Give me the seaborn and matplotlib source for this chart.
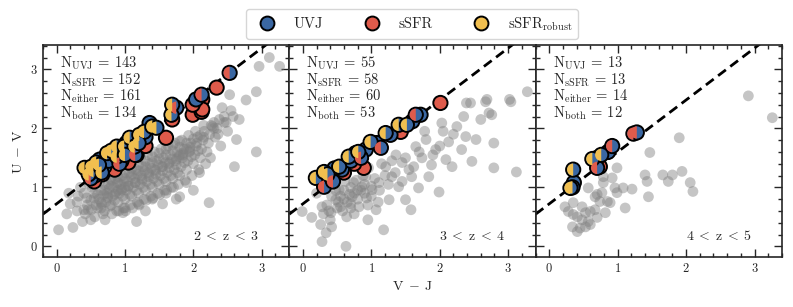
import numpy as np
import pandas as pd
import seaborn as sns
import matplotlib.pyplot as plt
from matplotlib.markers import MarkerStyle
from matplotlib.lines import Line2D
from matplotlib.ticker import MultipleLocator, AutoMinorLocator

sns.set_style("ticks")
plt.rcParams["font.family"] = ["serif"]
plt.rcParams["font.serif"] = ["cmr10", "DejaVu Serif"]
plt.rcParams["mathtext.fontset"] = "cm"
plt.rcParams["axes.formatter.use_mathtext"] = True

BLUE = "#3a67a2"
RED = "#df5b4b"
YELLOW = "#f1bf4f"

# redshift bins
z_labels = [r"$2\;<\;\mathrm{z}\;<\;3$", r"$3\;<\;\mathrm{z}\;<\;4$", r"$4\;<\;\mathrm{z}\;<\;5$"]
n_uvj = [143, 55, 13]
n_ssfr = [152, 58, 13]
n_either = [161, 60, 14]
n_both = [134, 53, 12]

# UVJ selection line (U-V = a (V-J) + b)
uvj_slope = 0.88
uvj_icpt = 0.72
line_vj = np.array([-0.2, 3.4])

# ---- all galaxies (grey) ----
gray_x_1 = [0.03, 0.15, 0.2, 0.24, 0.18, 0.3, 0.32, 0.35, 0.38, 0.3, 0.42, 0.45, 0.4, 0.48, 0.44, 0.46,
            0.51, 0.5, 0.55, 0.53, 0.58, 0.56, 0.52, 0.6, 0.62, 0.65, 0.63, 0.68, 0.66, 0.61, 0.69,
            0.7, 0.72, 0.74, 0.76, 0.73, 0.78, 0.71, 0.77, 0.79, 0.8, 0.82, 0.84, 0.86, 0.83, 0.88,
            0.81, 0.87, 0.89, 0.85, 0.9, 0.92, 0.94, 0.96, 0.93, 0.98, 0.91, 0.97, 0.95, 0.99,
            1.0, 1.02, 1.04, 1.06, 1.03, 1.08, 1.01, 1.07, 1.05, 1.09, 0.97, 1.1, 1.12, 1.14, 1.16,
            1.13, 1.18, 1.11, 1.17, 1.15, 1.19, 1.17, 1.2, 1.22, 1.24, 1.26, 1.23, 1.28, 1.21, 1.27,
            1.25, 1.29, 1.3, 1.32, 1.34, 1.36, 1.33, 1.38, 1.31, 1.37, 1.35, 1.39, 1.4, 1.42, 1.44,
            1.46, 1.43, 1.48, 1.41, 1.47, 1.45, 1.49, 1.5, 1.52, 1.54, 1.56, 1.53, 1.58, 1.51, 1.57,
            1.55, 1.59, 1.6, 1.62, 1.64, 1.66, 1.63, 1.68, 1.61, 1.67, 1.65, 1.69, 1.7, 1.72, 1.74,
            1.76, 1.73, 1.78, 1.71, 1.77, 1.75, 1.79, 1.8, 1.8, 1.82, 1.84, 1.86, 1.83, 1.88, 1.87,
            1.85, 1.9, 1.9, 1.92, 1.94, 1.96, 1.93, 1.98, 1.97, 1.95, 2.0, 2.02, 2.04, 2.06, 2.03,
            2.08, 2.09, 2.07, 2.1, 2.12, 2.14, 2.16, 2.18, 2.15, 2.2, 2.22, 2.24, 2.26, 2.28, 2.23,
            2.25, 2.32, 2.35, 2.38, 2.4, 2.45, 2.5, 2.53, 2.6, 2.63, 2.67, 2.77, 2.92, 2.92, 2.96,
            3.11, 3.26, 2.55, 2.42, 2.48, 2.58, 2.36, 2.3, 1.9, 1.8, 0.65, 0.55, 0.75, 0.9, 1.0,
            # dense core
            0.6, 0.7, 0.8, 0.9, 1.0, 1.1, 1.2, 1.3, 1.4, 1.5, 1.6, 1.7, 1.8, 1.9, 2.0, 2.1,
            0.65, 0.75, 0.85, 0.95, 1.05, 1.15, 1.25, 1.35, 1.45, 1.55, 1.65, 1.75, 1.85, 1.95,
            0.7, 0.8, 0.9, 1.0, 1.1, 1.2, 1.3, 1.4, 1.5, 1.6, 1.7, 1.8, 2.05, 2.15, 2.3, 2.45,
            1.0, 1.2, 1.4, 1.6, 0.5, 0.4, 1.3, 1.55, 1.75, 2.0]
gray_y_1 = [0.28, 0.55, 0.72, 0.32, 0.9, 0.6, 0.85, 1.0, 0.42, 0.75, 0.55, 0.7, 0.9, 1.05, 0.82, 0.62,
            0.62, 0.78, 0.9, 1.1, 0.7, 0.5, 1.0, 0.65, 0.8, 0.95, 1.1, 0.55, 0.72, 1.2, 0.88,
            0.6, 0.75, 0.9, 1.05, 1.2, 0.68, 0.45, 0.98, 1.15, 0.7, 0.85, 1.0, 1.15, 1.3, 0.6,
            0.55, 0.92, 1.08, 0.78, 0.75, 0.9, 1.05, 1.2, 1.35, 0.65, 0.6, 0.85, 0.97, 1.1,
            0.8, 0.95, 1.1, 1.25, 1.4, 0.7, 0.6, 0.88, 1.02, 1.18, 0.57, 0.85, 1.0, 1.15, 1.3,
            1.45, 0.75, 0.65, 0.95, 1.08, 1.22, 0.42, 0.9, 1.05, 1.2, 1.35, 1.5, 0.8, 0.7, 1.0,
            1.12, 1.28, 0.95, 1.1, 1.25, 1.4, 1.55, 0.85, 0.78, 1.05, 1.18, 1.32, 1.0, 1.15, 1.3,
            1.45, 1.6, 0.9, 0.82, 1.1, 1.22, 1.38, 1.05, 1.2, 1.35, 1.5, 1.65, 0.95, 0.88, 1.15,
            1.28, 1.42, 1.1, 1.25, 1.4, 1.55, 1.7, 1.0, 0.95, 1.2, 1.33, 1.48, 1.15, 1.3, 1.45,
            1.6, 1.75, 1.05, 1.0, 1.25, 1.38, 1.52, 0.84, 1.2, 1.35, 1.5, 1.65, 1.8, 1.12, 1.42,
            1.58, 1.08, 1.3, 1.45, 1.6, 1.75, 1.88, 1.2, 1.52, 1.68, 1.4, 1.55, 1.7, 1.85, 1.95,
            1.3, 1.25, 1.62, 1.5, 1.65, 1.8, 1.95, 1.4, 2.05, 1.6, 1.75, 1.9, 2.05, 2.03, 0.74,
            1.5, 1.85, 2.0, 2.15, 1.7, 2.2, 1.95, 2.57, 1.35, 1.81, 2.15, 2.48, 2.62, 1.6, 3.05,
            3.2, 3.05, 2.3, 2.35, 2.1, 2.2, 1.9, 2.1, 1.65, 1.55, 0.65, 0.82, 0.85, 0.95, 1.0,
            0.88, 0.95, 1.02, 1.08, 1.15, 1.22, 1.28, 1.35, 1.42, 1.48, 1.55, 1.62, 1.68, 1.75, 1.82, 1.88,
            0.75, 0.82, 0.88, 0.95, 1.02, 1.08, 1.15, 1.22, 1.28, 1.35, 1.42, 1.48, 1.55, 1.62,
            1.05, 1.12, 1.18, 1.25, 1.32, 1.38, 1.45, 1.52, 1.58, 1.65, 1.72, 1.78, 1.75, 1.85, 2.0, 2.1,
            0.65, 0.72, 0.8, 0.9, 0.45, 0.62, 0.6, 0.72, 0.8, 0.95]

gray_x_2 = [-0.01, 0.13, 0.26, 0.28, 0.34, 0.28, 0.42, 0.41, 0.48, 0.53, 0.55, 0.63, 0.64, 0.72,
            0.74, 0.82, 0.86, 0.92, 0.93, 0.96, 1.01, 1.07, 1.11, 1.18, 1.21, 1.26, 1.3, 1.36, 1.4,
            1.45, 1.5, 1.58, 1.59, 1.65, 1.69, 1.74, 1.8, 1.84, 1.88, 1.94, 1.99, 2.03, 2.09, 2.13,
            2.18, 2.25, 2.32, 2.38, 2.45, 2.47, 2.53, 2.6, 2.67, 2.72, 2.76, 2.79, 2.79, 3.04, 3.12,
            2.69, 3.02, 3.28, 2.39, 0.55, 0.6, 0.65, 0.7, 0.75, 0.8, 0.85, 0.9, 0.62, 0.7, 0.48,
            0.58, 0.78, 1.0, 1.05, 0.95, 0.68, 0.52, 0.42, 0.35, 0.88, 1.12, 1.2, 1.25, 1.35, 1.45,
            1.55, 1.5, 1.62, 1.7, 1.9, 2.0, 2.05, 1.78, 1.3, 1.15, 2.2, 2.35, 0.2, 0.4, 0.3, 0.75,
            0.95, 1.1, 0.5, 0.6, 0.7, 0.8, 0.45, 0.38, 0.9, 1.0]
gray_y_2 = [0.59, 0.49, 0.37, 0.67, 0.23, 0.08, 0.33, 0.57, 0.79, 0.96, 0.67, 0.0, 0.5, 0.84,
            1.08, 0.67, 1.01, 1.18, 0.82, 1.33, 0.96, 0.62, 1.08, 0.28, 1.35, 0.79, 1.18, 1.55, 1.01,
            1.42, 0.79, 0.62, 1.18, 1.69, 0.99, 1.5, 1.81, 1.18, 1.38, 1.64, 0.92, 2.09, 1.47, 1.77,
            1.35, 2.03, 1.64, 1.86, 2.43, 1.44, 1.81, 2.15, 2.45, 2.26, 2.23, 1.33, 1.75, 2.45, 1.26,
            2.49, 2.49, 2.62, 2.43, 0.85, 0.95, 0.75, 1.0, 0.9, 0.8, 0.95, 1.05, 1.1, 0.65, 0.95,
            0.6, 1.12, 0.85, 1.15, 0.7, 0.88, 0.75, 0.85, 0.7, 1.2, 0.95, 1.2, 1.05, 1.25, 1.1,
            1.3, 1.5, 1.35, 1.6, 1.55, 1.7, 1.95, 1.95, 1.45, 1.4, 1.9, 2.2, 0.9, 0.45, 0.55, 0.55,
            0.45, 0.75, 0.65, 0.8, 0.72, 0.95, 1.05, 0.6, 0.9, 1.02]

gray_x_3 = [2.91, 3.26, 1.9, 1.47, 0.99, 1.4, 1.66, 1.8, 1.94, 1.43, 1.74, 2.06, 2.1, 1.45, 0.92,
            0.79, 0.96, 1.08, 1.21, 0.57, 0.77, 0.7, 0.85, 0.89, 1.11, 0.35, 0.23, 0.48, 0.53, 0.6,
            0.67, 0.82, 0.41, 0.48, 0.57, 0.7, 0.34, 0.41, 0.45, 0.6, 0.28, 0.74, 0.99, 0.79, 0.67,
            0.53, 0.35]
gray_y_3 = [2.55, 2.18, 1.84, 1.59, 1.33, 1.21, 1.21, 1.21, 1.27, 1.1, 1.1, 1.08, 0.93, 0.84, 1.16,
            1.08, 0.99, 0.99, 0.97, 0.99, 0.91, 0.88, 0.76, 0.74, 0.65, 0.74, 0.67, 0.67, 0.57, 0.59,
            0.62, 0.57, 0.5, 0.45, 0.42, 0.49, 0.33, 0.25, 0.31, 0.37, 0.59, 0.76, 0.91, 1.18, 0.84,
            0.33, 0.54]

# ---- quiescent selections: kind = ssfr / uvj / both (sSFR+UVJ) / robust (sSFR_robust+UVJ) ----
q_x_1 = [2.34, 1.99, 2.12, 2.13, 1.60, 1.69, 2.13, 1.99, 0.67, 1.17, 0.96, 0.79, 0.55, 1.30, 0.85, 1.05,
         2.04, 0.63, 0.82, 1.02, 1.21, 1.36, 0.45, 0.70, 0.95, 1.10, 1.30, 0.56, 0.76,
         2.53, 2.12, 1.75, 0.50, 0.92, 1.15,
         0.41, 0.51, 0.54, 0.58, 0.66, 0.74, 0.88, 0.88, 0.99, 1.07, 1.14, 1.21, 1.28, 1.40, 1.46,
         1.68, 1.69, 0.47, 0.62, 0.80, 1.00, 1.20]
q_y_1 = [2.69, 2.23, 2.28, 2.49, 1.84, 2.15, 2.32, 2.40, 1.22, 1.55, 1.52, 1.49, 1.10, 1.70, 1.30, 1.42,
         2.49, 1.47, 1.60, 1.75, 1.81, 2.09, 1.30, 1.35, 1.45, 1.60, 1.85, 1.20, 1.45,
         2.94, 2.57, 2.35, 1.15, 1.40, 1.55,
         1.33, 1.35, 1.28, 1.42, 1.25, 1.58, 1.52, 1.69, 1.69, 1.84, 1.69, 1.89, 1.94, 2.03, 2.01,
         2.23, 2.40, 1.22, 1.38, 1.62, 1.55, 1.75]
q_kind_1 = ["ssfr"] * 16 + ["uvj"] * 13 + ["both"] * 6 + ["robust"] * 22

q_x_2 = [2.01, 0.89, 1.43, 0.75, 0.60,
         1.72, 0.38, 0.57, 0.77, 0.92, 1.08, 1.28, 0.46, 0.70, 1.60,
         0.31, 1.65, 1.14, 0.44, 0.85,
         0.19, 0.31, 0.36, 0.53, 0.67, 0.81, 0.99, 1.21, 1.40, 1.52]
q_y_2 = [2.43, 1.33, 1.94, 1.40, 1.25,
         2.23, 1.13, 1.30, 1.58, 1.64, 1.75, 1.89, 1.32, 1.45, 2.12,
         1.01, 2.23, 1.67, 1.10, 1.50,
         1.16, 1.26, 1.22, 1.35, 1.52, 1.60, 1.77, 1.92, 2.06, 2.06]
q_kind_2 = ["ssfr"] * 5 + ["uvj"] * 10 + ["both"] * 5 + ["robust"] * 10

q_x_3 = [0.74, 0.86, 0.36, 0.70, 1.23, 1.28, 0.92, 0.70, 0.76, 0.63, 0.35, 0.34, 0.31]
q_y_3 = [1.35, 1.60, 1.08, 1.50, 1.91, 1.93, 1.70, 1.33, 1.55, 1.48, 1.30, 1.00, 0.99]
q_kind_3 = ["ssfr", "uvj", "uvj", "uvj", "both", "both", "both", "both",
            "robust", "robust", "robust", "robust", "robust"]

gray_df = pd.concat([
    pd.DataFrame({"vj": gray_x_1, "uv": gray_y_1, "bin": 0}),
    pd.DataFrame({"vj": gray_x_2, "uv": gray_y_2, "bin": 1}),
    pd.DataFrame({"vj": gray_x_3, "uv": gray_y_3, "bin": 2}),
])
q_df = pd.concat([
    pd.DataFrame({"vj": q_x_1, "uv": q_y_1, "kind": q_kind_1, "bin": 0}),
    pd.DataFrame({"vj": q_x_2, "uv": q_y_2, "kind": q_kind_2, "bin": 1}),
    pd.DataFrame({"vj": q_x_3, "uv": q_y_3, "kind": q_kind_3, "bin": 2}),
])
# right half / full colour and left half colour
q_df["base"] = np.where(q_df["kind"] == "ssfr", "ssfr", "uvj")
q_df["half"] = q_df["kind"].map({"both": "ssfr", "robust": "robust"})

S_BIG = 105
EDGE = 1.4
S_HALF = (np.sqrt(S_BIG) - EDGE) ** 2

fig, axes = plt.subplots(1, 3, figsize=(7.93, 3.07), dpi=100, sharey=True)
fig.subplots_adjust(left=0.054, right=0.986, bottom=0.163, top=0.853, wspace=0)

for i, ax in enumerate(axes):
    g = gray_df[gray_df["bin"] == i]
    q = q_df[q_df["bin"] == i]
    sns.scatterplot(data=g, x="vj", y="uv", color="grey", alpha=0.45, s=60,
                    edgecolor="none", linewidth=0, ax=ax, zorder=1)
    sns.lineplot(x=line_vj, y=uvj_slope * line_vj + uvj_icpt, color="k", linestyle=(0, (3.5, 2)),
                 lw=2, ax=ax, zorder=2)
    sns.scatterplot(data=q, x="vj", y="uv", hue="base", palette={"uvj": BLUE, "ssfr": RED},
                    s=S_BIG, edgecolor="k", linewidth=EDGE, legend=False, ax=ax, zorder=3)
    qh = q[q["half"].notna()]
    sns.scatterplot(data=qh, x="vj", y="uv", hue="half", palette={"ssfr": RED, "robust": YELLOW},
                    marker=MarkerStyle("o", fillstyle="left"), s=S_HALF, linewidth=0,
                    edgecolor="none", legend=False, ax=ax, zorder=4)

    txt = "\n".join([
        r"N$_\mathrm{UVJ}$ = %d" % n_uvj[i],
        r"N$_\mathrm{sSFR}$ = %d" % n_ssfr[i],
        r"N$_\mathrm{either}$ = %d" % n_either[i],
        r"N$_\mathrm{both}$ = %d" % n_both[i],
    ])
    ax.text(0.07, 0.955, txt, transform=ax.transAxes, ha="left", va="top", fontsize=10.5,
            linespacing=0.93)
    ax.text(0.88, 0.065, z_labels[i], transform=ax.transAxes, ha="right", va="bottom", fontsize=10)

    ax.set_xlim(-0.2, 3.4)
    ax.set_ylim(-0.18, 3.41)
    ax.xaxis.set_major_locator(MultipleLocator(1))
    ax.yaxis.set_major_locator(MultipleLocator(1))
    ax.xaxis.set_minor_locator(AutoMinorLocator(5))
    ax.yaxis.set_minor_locator(AutoMinorLocator(5))
    ax.tick_params(which="both", direction="in", top=True, right=True, labelsize=9, width=1)
    ax.tick_params(which="major", length=6)
    ax.tick_params(which="minor", length=3)
    for sp in ax.spines.values():
        sp.set_linewidth(1.2)
    ax.set_xlabel("")
    ax.set_ylabel("")

axes[1].set_xlabel(r"$\mathrm{V}\;-\;\mathrm{J}$", fontsize=10)
axes[0].set_ylabel(r"$\mathrm{U}\;-\;\mathrm{V}$", fontsize=10)

handles = [
    Line2D([], [], ls="", marker="o", markersize=10, markerfacecolor=c, markeredgecolor="k",
           markeredgewidth=EDGE)
    for c in (BLUE, RED, YELLOW)
]
labels = ["UVJ", "sSFR", r"sSFR$_\mathrm{robust}$"]
fig.legend(handles, labels, loc="center", bbox_to_anchor=(0.52, 0.922), ncol=3, fontsize=10.5,
           frameon=True, columnspacing=2.3, handletextpad=0.85, borderpad=0.4)

plt.savefig("out.png", dpi=100)
